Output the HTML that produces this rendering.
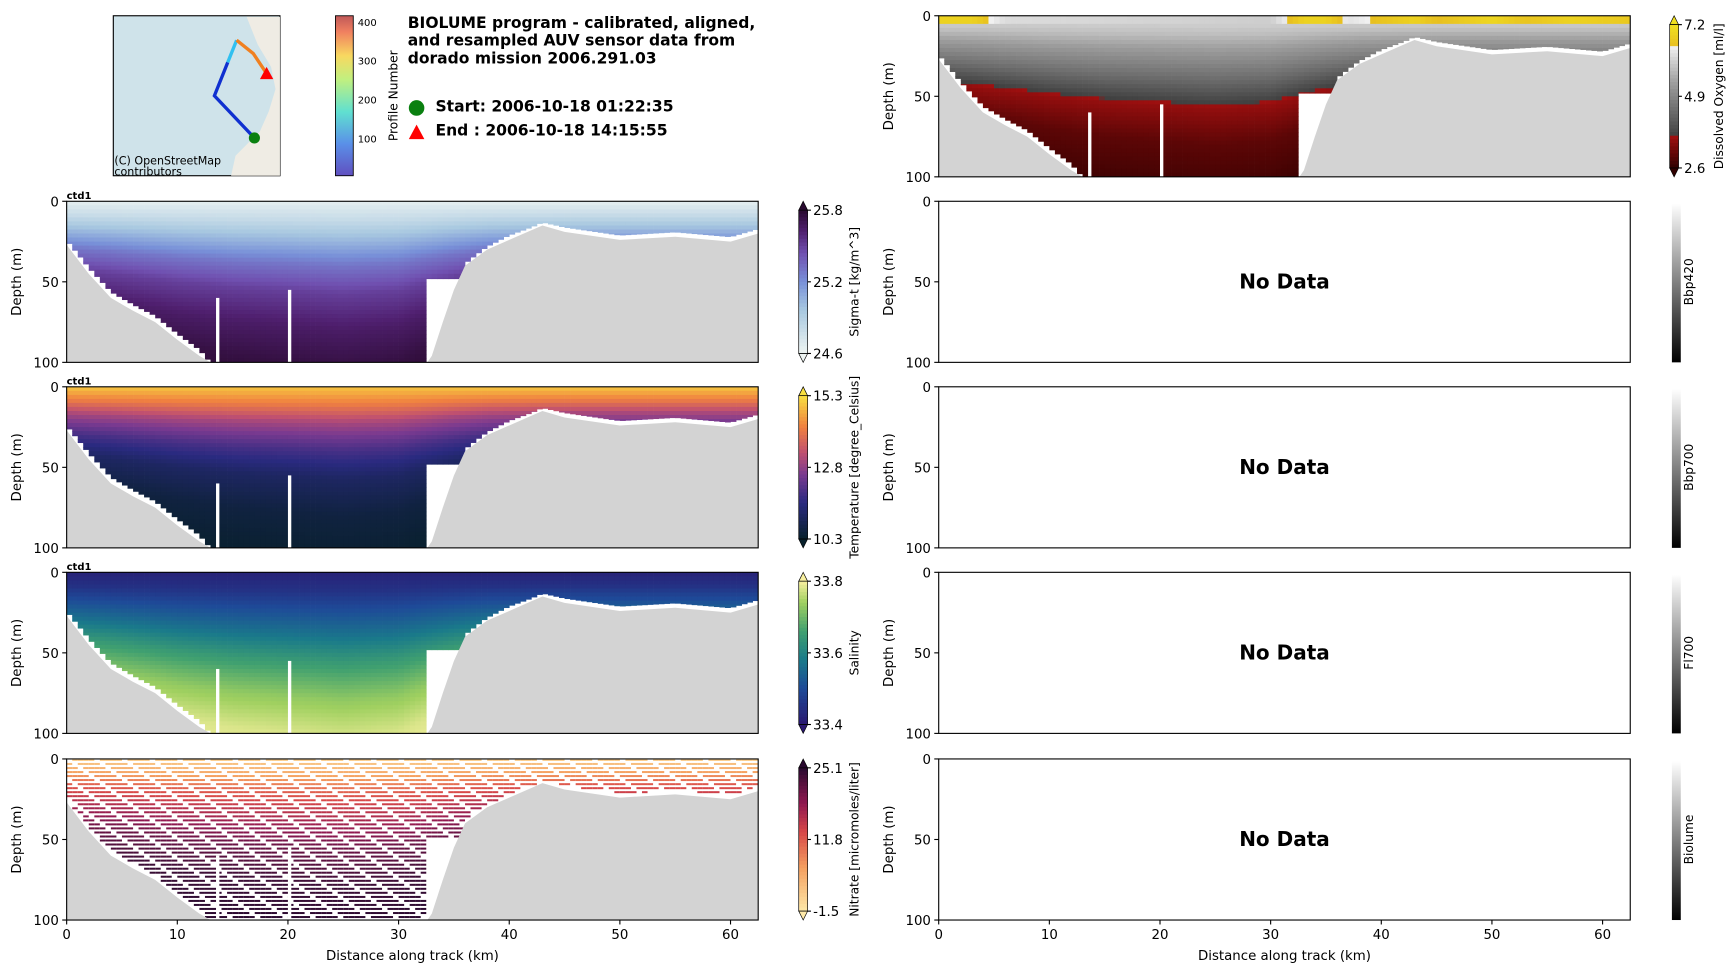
<!DOCTYPE html>
<html><head><meta charset="utf-8"><style>
html,body{margin:0;padding:0;background:#fff;overflow:hidden;width:1733px;height:968px}
svg{display:block}
text{font-family:"DejaVu Sans","Liberation Sans",sans-serif;fill:#000}
</style></head><body>
<svg id="fig" width="1733" height="968" viewBox="0 0 1560 871" xmlns="http://www.w3.org/2000/svg">
<defs>
<linearGradient id="profGrad" x1="0" y1="1" x2="0" y2="0">
<stop offset="0" stop-color="#6050c0"/><stop offset="0.2" stop-color="#5a90e8"/><stop offset="0.4" stop-color="#60e0d0"/><stop offset="0.6" stop-color="#c0f080"/><stop offset="0.75" stop-color="#f8d860"/><stop offset="0.9" stop-color="#f08060"/><stop offset="1" stop-color="#c05858"/></linearGradient>
<linearGradient id="grayGrad" x1="0" y1="1" x2="0" y2="0"><stop offset="0" stop-color="#000"/><stop offset="1" stop-color="#fff"/></linearGradient>
</defs>
<g id="map">
<rect x="102" y="14" width="150" height="144" fill="#cfe3ea" stroke="#000"/>
<path d="M222,15 L252,15 L252,158 L208,158 L212,140 L224,128 L234,118 L242,100 L248,80 L244,60 L232,40 Z" fill="#efece4"/>
<path d="M229,124 L193,86 L205,56" fill="none" stroke="#1030d0" stroke-width="3"/>
<path d="M205,56 L213,36" fill="none" stroke="#30c0f0" stroke-width="3"/>
<path d="M213,36 L228,48 L240,66" fill="none" stroke="#f08020" stroke-width="3"/>
<circle cx="229" cy="124" r="5" fill="#0a8010"/>
<path d="M240,60 L246,71 L234,71 Z" fill="#f00"/>
<text x="103" y="148" font-size="10">(C) OpenStreetMap</text>
<text x="103" y="158" font-size="10">contributors</text>
</g>
<g>
<rect x="302" y="14" width="16" height="144" fill="url(#profGrad)" stroke="#000" stroke-width="0.8"/>
<g font-size="9"><text x="322" y="128">100</text><text x="322" y="93">200</text><text x="322" y="58">300</text><text x="322" y="23">400</text></g>
<text transform="translate(358,86) rotate(-90)" font-size="11" text-anchor="middle">Profile Number</text>
</g>
<g font-size="14" font-weight="bold">
<text x="367" y="25">BIOLUME program - calibrated, aligned,</text>
<text x="367" y="41">and resampled AUV sensor data from</text>
<text x="367" y="57">dorado mission 2006.291.03</text>
<circle cx="375" cy="97" r="7" fill="#0a8010"/>
<text x="392" y="100">Start: 2006-10-18 01:22:35</text>
<path d="M375,112 L382,125 L368,125 Z" fill="#f00"/>
<text x="392" y="122">End  : 2006-10-18 14:15:55</text>
</g>
<g id="panels"></g>
</svg>
<script>
// ---- data ----
const bathDist = [0,2,4,6,8,10,12,13,14,20,30,32.5,33,34,35,36,38,40,42,43,45,50,55,60,62.5];
const bathDepth = [27,45,60,68,75,86,96,100,101,101,101,101,96,75,55,40,30,24,18,15,19,24,22,25,20];
const dataBotDist = [0,2,4,6,8,10,12,13,32.5,32.6,36,36.1,38,40,42,43,45,50,55,60,62.5];
const dataBotDepth = [24,41,56,64,71,82,92,100,100,48,48,38,28,21,16,13,16,21,19,22,17];
const gapDist = [13.5,20.0];
const gapTop = [60,55];
const depthLevels = [0,10,20,35,50,70,90,100];
const offDist = [0,5,10,15,20,25,30,33,38,45,55,62.5];
const offset = [-12,-6,0,4,6,8,6,0,-10,-14,-14,-14];
const sigmaProfile = [24.65,24.8,25.0,25.3,25.5,25.65,25.75,25.78];
const tempProfile = [15.0,14.1,13.0,11.9,11.1,10.6,10.4,10.35];
const salProfile = [33.42,33.45,33.5,33.57,33.65,33.73,33.78,33.79];
const nitrateProfile = [1,6,12,17,21,24,25,25];
const oxyProfile = [6.2,5.8,5.2,4.4,3.5,3.0,2.8,2.7];
const oxySurfDist = [0,3,6,30,33,35,37,43,45,50,53,57,62.5];
const oxySurf = [6.9,6.9,6.2,6.0,6.9,6.9,6.3,6.9,6.5,7.0,6.6,6.9,6.7];
const distTicks = [0,10,20,30,40,50,60];
const depthTicks = [0,50,100];
// ---- helpers ----
const NS="http://www.w3.org/2000/svg";
function mk(tag,attrs,parent){const e=document.createElementNS(NS,tag);for(const k in attrs)e.setAttribute(k,attrs[k]);if(parent)parent.appendChild(e);return e;}
function interp(xs,ys,x){if(x<=xs[0])return ys[0];for(let i=1;i<xs.length;i++){if(x<=xs[i]){const t=(x-xs[i-1])/(xs[i]-xs[i-1]);return ys[i-1]+t*(ys[i]-ys[i-1]);}}return ys[ys.length-1];}
function hex(c){return [parseInt(c.slice(1,3),16),parseInt(c.slice(3,5),16),parseInt(c.slice(5,7),16)];}
function cmap(stops,t){t=Math.max(0,Math.min(1,t));for(let i=1;i<stops.length;i++){if(t<=stops[i][0]){const a=hex(stops[i-1][1]),b=hex(stops[i][1]);const u=(t-stops[i-1][0])/(stops[i][0]-stops[i-1][0]||1);return 'rgb('+a.map((v,j)=>Math.round(v+u*(b[j]-v))).join(',')+')';}}return stops[stops.length-1][1];}
const cSigma=[[0,'#eef4f2'],[0.3,'#a8c8e0'],[0.5,'#7890d8'],[0.7,'#7050b0'],[0.85,'#502070'],[1,'#2a0a30']];
const cTemp=[[0,'#08202c'],[0.25,'#2a2a80'],[0.45,'#7a3a90'],[0.6,'#c05070'],[0.78,'#f08040'],[1,'#f8e040']];
const cSal=[[0,'#2a1870'],[0.25,'#1e4a98'],[0.45,'#1a7a8a'],[0.65,'#40a070'],[0.85,'#a0d060'],[1,'#f8f0a0']];
const cNit=[[0,'#fde8a8'],[0.3,'#f5a060'],[0.55,'#d84848'],[0.75,'#901850'],[1,'#2a0a30']];
const cOxy=[[0,'#300000'],[0.22,'#a01010'],[0.221,'#404040'],[0.6,'#a0a0a0'],[0.85,'#f2f2f2'],[0.851,'#e8c020'],[1,'#f0e020']];
const root=document.getElementById('panels');
const PW=622.5,PH=145;
function panel(name,x0,y0,opts){
  const g=mk('g',{},root);
  
  
  const xs=d=>x0+d/62.5*PW, ys=z=>y0+z/100*PH;
  const cid='clip-'+name;
  const cp=mk('clipPath',{id:cid},g);mk('rect',{x:x0,y:y0,width:PW,height:PH},cp);
  const inner=mk('g',{'clip-path':'url(#'+cid+')'},g);
  if(opts.profile){
    const dd=0.5,dz=2.5;let ci=0;
    for(let d=0;d<62.5;d+=dd){
      ci++;let zi=0;
      const bot=interp(dataBotDist,dataBotDepth,d+dd/2);
      const off=interp(offDist,offset,d+dd/2);
      for(let z=0;z<bot;z+=dz){
        zi++;
        if(opts.dashed && (ci*7+zi*3)%5===0) continue;
        let v=interp(depthLevels,opts.profile,Math.max(0,z+dz/2-off*(z/60)));
        if(opts.surf && z<5) v=interp(oxySurfDist,oxySurf,d+dd/2);
        const col=cmap(opts.cmap,(v-opts.vmin)/(opts.vmax-opts.vmin));
        const h=opts.dashed?dz*0.5:Math.min(dz,bot-z)+0.3;
        const r=mk('rect',{x:xs(d).toFixed(1),y:ys(z).toFixed(1),width:(dd/62.5*PW+(opts.dashed?0:0.3)).toFixed(1),height:(h/100*PH).toFixed(2),fill:col},inner);
        
        
      }
    }
    for(let i=0;i<gapDist.length;i++){mk('rect',{x:xs(gapDist[i]),y:ys(gapTop[i]),width:3,height:PH,fill:'#fff'},inner);}
    let p='M'+xs(0)+','+ys(100);
    for(let i=0;i<bathDist.length;i++)p+=' L'+xs(bathDist[i]).toFixed(1)+','+ys(bathDepth[i]).toFixed(1);
    p+=' L'+xs(62.5)+','+ys(100)+' Z';
    const sf=mk('path',{d:p,fill:'#d3d3d3'},inner);
    
    
  } else {
    const t=mk('text',{x:x0+PW/2,y:y0+PH/2+6,'font-size':18,'font-weight':'bold','text-anchor':'middle'},g);t.textContent='No Data';
    
    
  }
  mk('rect',{x:x0,y:y0,width:PW,height:PH,fill:'none',stroke:'#000','stroke-width':1},g);
  if(opts.ctd){const t=mk('text',{x:x0,y:y0-2,'font-size':9,'font-weight':'bold'},g);t.textContent='ctd1';}
  depthTicks.forEach(v=>{mk('line',{x1:x0-4,x2:x0,y1:ys(v),y2:ys(v),stroke:'#000'},g);const t=mk('text',{x:x0-7,y:ys(v)+4.5,'font-size':12,'text-anchor':'end'},g);t.textContent=v;});
  const yl=mk('text',{transform:'translate('+(x0-41)+','+(y0+PH/2)+') rotate(-90)','font-size':12,'text-anchor':'middle'},g);yl.textContent='Depth (m)';
  
  
  if(opts.xlabels){
    distTicks.forEach(v=>{mk('line',{x1:xs(v),x2:xs(v),y1:y0+PH,y2:y0+PH+4,stroke:'#000'},g);const t=mk('text',{x:xs(v),y:y0+PH+17,'font-size':12,'text-anchor':'middle'},g);t.textContent=v;});
    const xl=mk('text',{x:x0+PW/2,y:y0+PH+36,'font-size':12,'text-anchor':'middle'},g);xl.textContent='Distance along track (km)';
    
    
  }
  const cx=opts.cbx,cb=mk('g',{},g);
  
  
  const top=y0+(opts.profile?8:2),bot=y0+PH-(opts.profile?8:0);
  if(opts.profile){
    const n=40;for(let i=0;i<n;i++){mk('rect',{x:cx,y:top+(bot-top)*i/n,width:8,height:(bot-top)/n+0.5,fill:cmap(opts.cmap,1-(i+0.5)/n)},cb);}
    mk('path',{d:`M${cx},${top} L${cx+4},${top-8} L${cx+8},${top} Z`,fill:cmap(opts.cmap,1),stroke:'#000','stroke-width':0.6},cb);
    mk('path',{d:`M${cx},${bot} L${cx+4},${bot+8} L${cx+8},${bot} Z`,fill:cmap(opts.cmap,0),stroke:'#000','stroke-width':0.6},cb);
    mk('rect',{x:cx,y:top,width:8,height:bot-top,fill:'none',stroke:'#000','stroke-width':0.6},cb);
    opts.ticks.forEach((v,i)=>{const yy=top+(bot-top)*i/2;mk('line',{x1:cx+8,x2:cx+11,y1:yy,y2:yy,stroke:'#000'},cb);const t=mk('text',{x:cx+13,y:yy+4.5,'font-size':12},cb);t.textContent=v;});
  } else {
    mk('rect',{x:cx,y:top,width:8,height:bot-top,fill:'url(#grayGrad)'},cb);
  }
  const lx=cx+opts.lo;
  const lab=mk('text',{transform:'translate('+lx+','+(y0+PH/2)+') rotate(-90)','font-size':11,'text-anchor':'middle'},cb);lab.textContent=opts.label;
}
const L=60,R=845,rows=[181,348,515,683];
panel('oxygen',R,14,{profile:oxyProfile,cmap:cOxy,vmin:2.6,vmax:7.2,ticks:['7.2','4.9','2.6'],cbx:1503,lo:48,label:'Dissolved Oxygen [ml/l]',surf:true});
panel('sigma-t',L,rows[0],{profile:sigmaProfile,cmap:cSigma,vmin:24.6,vmax:25.8,ticks:['25.8','25.2','24.6'],cbx:719,lo:54,label:'Sigma-t [kg/m^3]',ctd:true});
panel('temperature',L,rows[1],{profile:tempProfile,cmap:cTemp,vmin:10.3,vmax:15.3,ticks:['15.3','12.8','10.3'],cbx:719,lo:54,label:'Temperature [degree_Celsius]',ctd:true});
panel('salinity',L,rows[2],{profile:salProfile,cmap:cSal,vmin:33.4,vmax:33.8,ticks:['33.8','33.6','33.4'],cbx:719,lo:54,label:'Salinity',ctd:true});
panel('nitrate',L,rows[3],{profile:nitrateProfile,cmap:cNit,vmin:-1.5,vmax:25.1,ticks:['25.1','11.8','-1.5'],cbx:719,lo:54,label:'Nitrate [micromoles/liter]',dashed:true,xlabels:true});
panel('bbp420',R,rows[0],{cbx:1505,lo:19,label:'Bbp420'});
panel('bbp700',R,rows[1],{cbx:1505,lo:19,label:'Bbp700'});
panel('fl700',R,rows[2],{cbx:1505,lo:19,label:'Fl700'});
panel('biolume',R,rows[3],{cbx:1505,lo:19,label:'Biolume',xlabels:true});
</script>
</body></html>
